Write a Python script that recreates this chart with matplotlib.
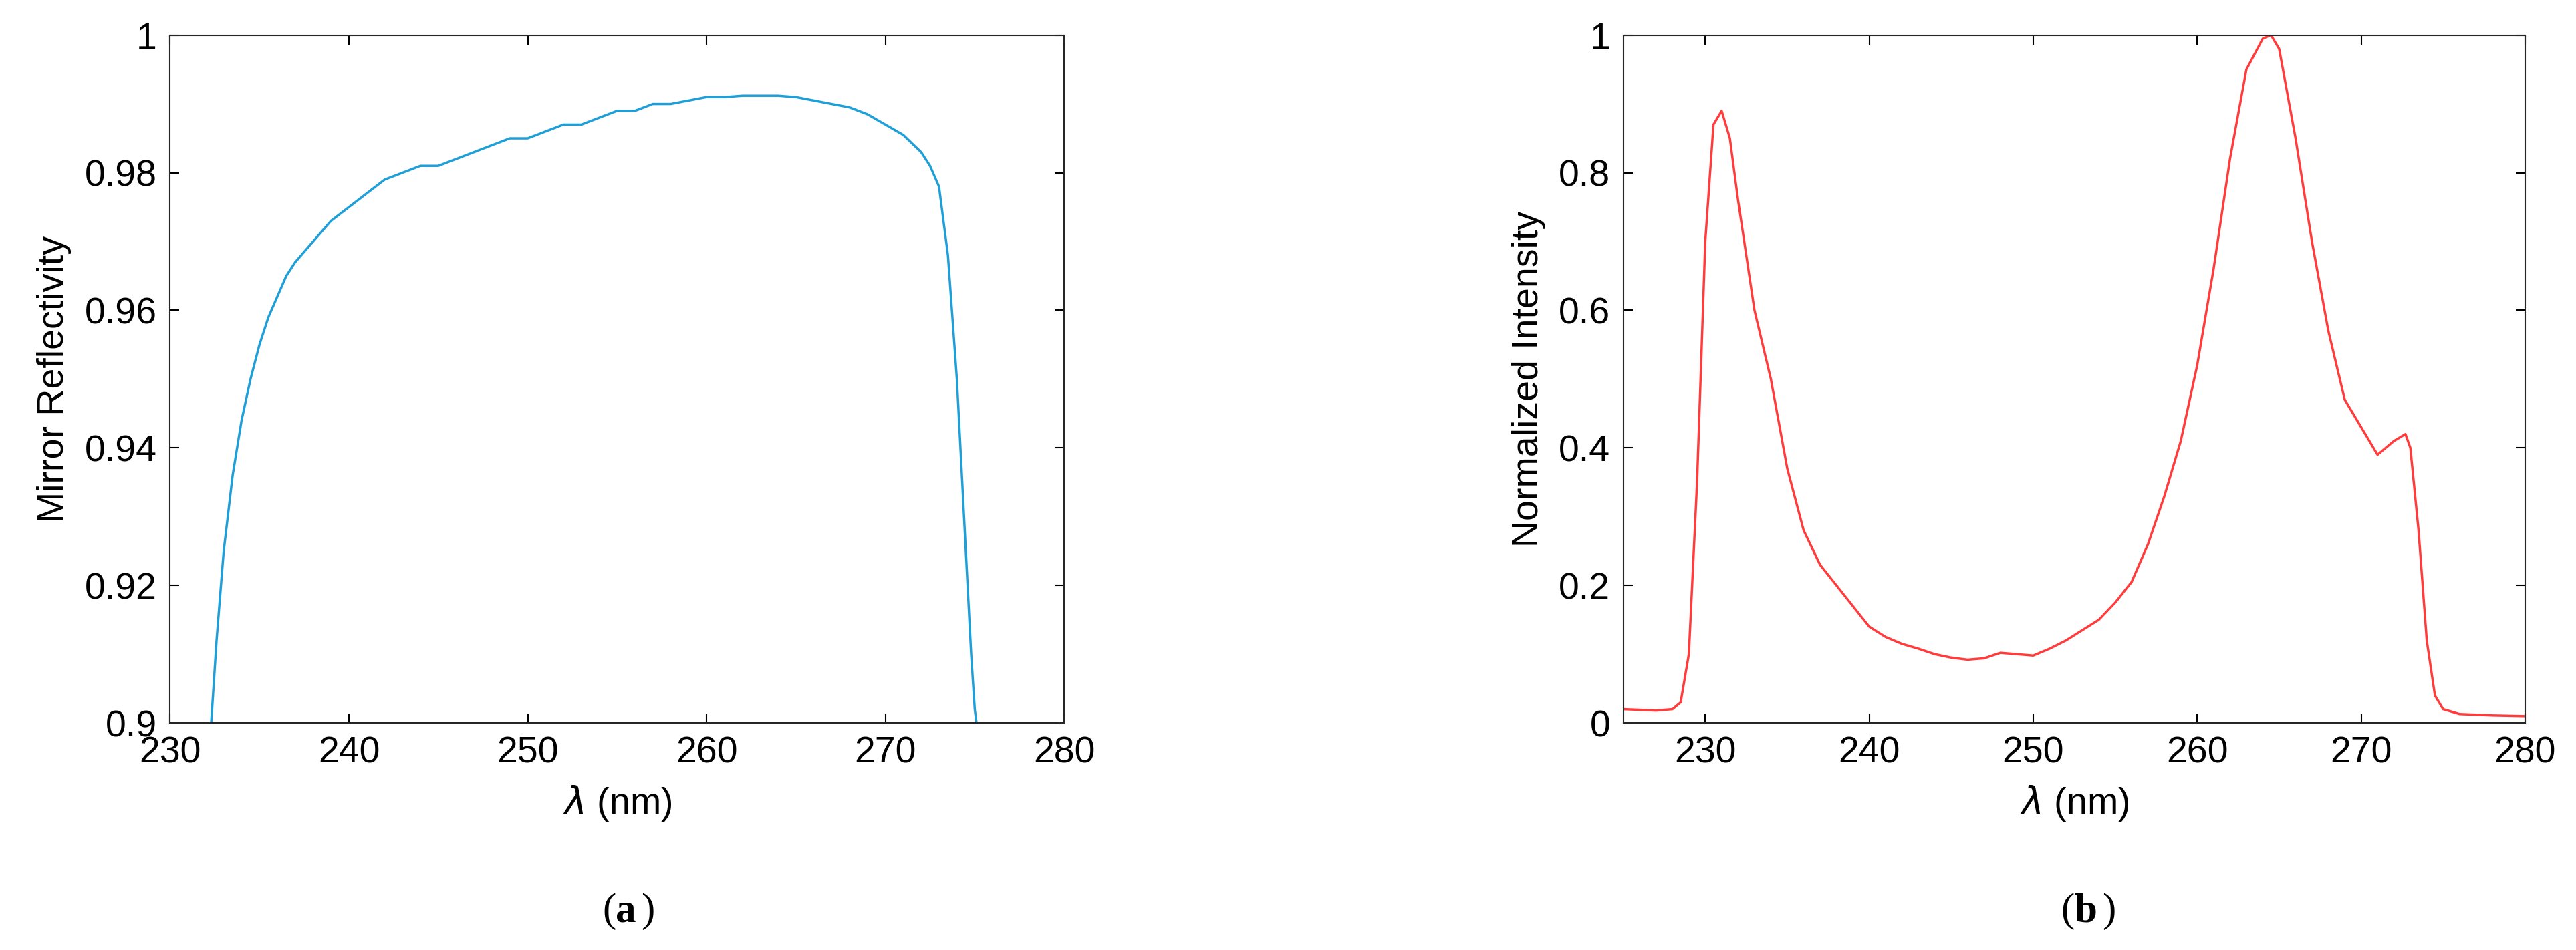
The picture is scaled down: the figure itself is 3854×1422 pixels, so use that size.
import matplotlib
matplotlib.use("Agg")
import matplotlib.pyplot as plt
import numpy as np

wl_a = [232.3, 232.6, 233.0, 233.5, 234.0, 234.5, 235.0, 235.5, 236.0, 236.5, 237.0, 238.0, 239.0, 240.0, 241.0, 242.0, 243.0, 244.0, 245.0, 246.0, 247.0, 248.0, 249.0, 250.0, 251.0, 252.0, 253.0, 254.0, 255.0, 256.0, 257.0, 258.0, 259.0, 260.0, 261.0, 262.0, 263.0, 264.0, 265.0, 266.0, 267.0, 268.0, 269.0, 270.0, 271.0, 272.0, 272.5, 273.0, 273.5, 274.0, 274.3, 274.6, 274.8, 275.0, 275.1]
refl = [0.900, 0.912, 0.925, 0.936, 0.944, 0.950, 0.955, 0.959, 0.962, 0.965, 0.967, 0.970, 0.973, 0.975, 0.977, 0.979, 0.980, 0.981, 0.981, 0.982, 0.983, 0.984, 0.985, 0.985, 0.986, 0.987, 0.987, 0.988, 0.989, 0.989, 0.990, 0.990, 0.9905, 0.991, 0.991, 0.9912, 0.9912, 0.9912, 0.991, 0.9905, 0.990, 0.9895, 0.9885, 0.987, 0.9855, 0.983, 0.981, 0.978, 0.968, 0.950, 0.935, 0.920, 0.910, 0.902, 0.900]

wl_b = [225, 227, 228, 228.5, 229, 229.5, 230, 230.5, 231, 231.5, 232, 233, 234, 235, 236, 237, 238, 239, 240, 241, 242, 243, 244, 245, 246, 247, 248, 249, 250, 251, 252, 253, 254, 255, 256, 257, 258, 259, 260, 261, 262, 263, 264, 264.5, 265, 266, 267, 268, 269, 270, 271, 272, 272.7, 273, 273.5, 274, 274.5, 275, 276, 278, 280]
inten = [0.02, 0.018, 0.02, 0.03, 0.10, 0.35, 0.70, 0.87, 0.89, 0.85, 0.76, 0.60, 0.50, 0.37, 0.28, 0.23, 0.20, 0.17, 0.14, 0.125, 0.115, 0.108, 0.10, 0.095, 0.092, 0.094, 0.102, 0.100, 0.098, 0.108, 0.120, 0.135, 0.150, 0.175, 0.205, 0.26, 0.33, 0.41, 0.52, 0.66, 0.82, 0.95, 0.995, 1.0, 0.98, 0.85, 0.70, 0.57, 0.47, 0.43, 0.39, 0.41, 0.42, 0.40, 0.28, 0.12, 0.04, 0.02, 0.013, 0.011, 0.01]

plt.rcParams['font.family'] = ['Arial', 'Liberation Sans', 'DejaVu Sans']
fig = plt.figure(figsize=(38.55, 14.22), dpi=100)
fs = 40

ax1 = fig.add_axes([0.066, 0.239, 0.347, 0.724])
ax1.plot(wl_a, refl, color='#1f9fd8', lw=2.5)
ax1.set_xlim(230, 280); ax1.set_ylim(0.9, 1.0)
ax1.set_xticks([230, 240, 250, 260, 270, 280])
ax1.set_yticks([0.9, 0.92, 0.94, 0.96, 0.98, 1.0])
ax1.set_yticklabels(['0.9', '0.92', '0.94', '0.96', '0.98', '1'])
ax1.set_ylabel('Mirror Reflectivity', fontsize=fs, labelpad=14)
ax1.set_xlabel(r'$\lambda$ (nm)', fontsize=fs, labelpad=14)

ax2 = fig.add_axes([0.630, 0.239, 0.350, 0.724])
ax2.plot(wl_b, inten, color='#ff3b3b', lw=2.5)
ax2.set_xlim(225, 280); ax2.set_ylim(0, 1.0)
ax2.set_xticks([230, 240, 250, 260, 270, 280])
ax2.set_yticks([0, 0.2, 0.4, 0.6, 0.8, 1.0])
ax2.set_yticklabels(['0', '0.2', '0.4', '0.6', '0.8', '1'])
ax2.set_ylabel('Normalized Intensity', fontsize=fs, labelpad=14)
ax2.set_xlabel(r'$\lambda$ (nm)', fontsize=fs, labelpad=14)

for ax in (ax1, ax2):
    ax.tick_params(labelsize=fs, direction='in', length=10, width=1.5, top=True, right=True, labeltop=False, labelright=False, pad=14)
    for s in ax.spines.values():
        s.set_linewidth(1.5); s.set_color('#262626')

fig.text(0.239, 0.03, '(', ha='right', fontsize=44, fontfamily='Liberation Serif')
fig.text(0.239, 0.03, 'a', ha='left', fontsize=44, fontfamily='Liberation Serif', fontweight='bold')
fig.text(0.2488, 0.03, ')', ha='left', fontsize=44, fontfamily='Liberation Serif')
fig.text(0.805, 0.03, '(', ha='right', fontsize=44, fontfamily='Liberation Serif')
fig.text(0.805, 0.03, 'b', ha='left', fontsize=44, fontfamily='Liberation Serif', fontweight='bold')
fig.text(0.8158, 0.03, ')', ha='left', fontsize=44, fontfamily='Liberation Serif')
fig.savefig('out.png', dpi=100)
